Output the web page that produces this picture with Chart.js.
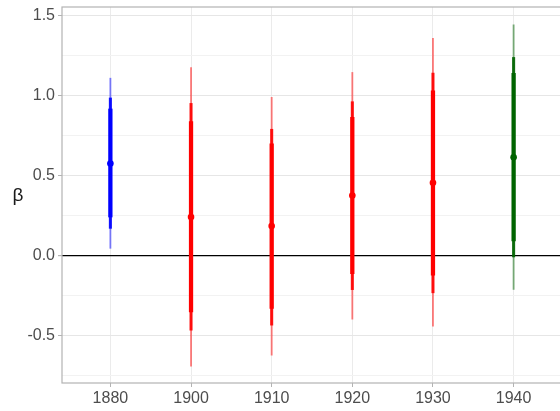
<!DOCTYPE html>
<html>
<head>
<meta charset="utf-8">
<script src="https://cdn.jsdelivr.net/npm/chart.js@4.4.1/dist/chart.umd.min.js"></script>
<style>
  html, body { margin: 0; padding: 0; overflow: hidden; background: #fff; }
  #wrap { width: 566px; height: 411px; }
</style>
</head>
<body>
<div id="wrap"><canvas id="c" width="566" height="411"></canvas></div>
<script>
// Cohorts and their coefficient estimates with three nested intervals
const years = ['1880', '1900', '1910', '1920', '1930', '1940'];
const estimate = [0.575, 0.24, 0.183, 0.375, 0.454, 0.615];
const outerLow  = [0.044, -0.694, -0.625, -0.40, -0.444, -0.214];
const outerHigh = [1.11, 1.177, 0.99, 1.146, 1.36, 1.444];
const midLow    = [0.169, -0.469, -0.4375, -0.215, -0.235, -0.01];
const midHigh   = [0.986, 0.952, 0.79, 0.9625, 1.142, 1.24];
const innerLow  = [0.24, -0.354, -0.333, -0.115, -0.125, 0.09];
const innerHigh = [0.917, 0.8375, 0.698, 0.865, 1.031, 1.14];
const groupColor = ['#0000ff', '#ff0000', '#ff0000', '#ff0000', '#ff0000', '#006400'];
const yTicks = [-0.75, -0.5, -0.25, 0, 0.25, 0.5, 0.75, 1, 1.25, 1.5];

function fade(hex, a) {
  const n = parseInt(hex.slice(1), 16);
  return `rgba(${(n >> 16) & 255},${(n >> 8) & 255},${n & 255},${a})`;
}
const isMajor = v => Math.abs(v * 2 - Math.round(v * 2)) < 1e-9;
const idx = years.map((_, i) => i);
const range = (lo, hi) => idx.map(i => ({ x: i, y: [lo[i], hi[i]] }));

const panelBox = {
  id: 'panelBox',
  afterDatasetsDraw(chart) {
    const { ctx, chartArea: a } = chart;
    ctx.save();
    ctx.strokeStyle = '#b3b3b3';
    ctx.lineWidth = 1.2;
    ctx.strokeRect(a.left, a.top, a.right - a.left, a.bottom - a.top);
    ctx.restore();
  },
  afterDraw(chart) {
    const { ctx, chartArea: a } = chart;
    ctx.save();
    ctx.fillStyle = '#1a1a1a';
    ctx.font = '19px "Liberation Sans", Arial, sans-serif';
    ctx.textAlign = 'center';
    ctx.textBaseline = 'middle';
    ctx.fillText('β', 18, (a.top + a.bottom) / 2 + 1);
    ctx.restore();
  }
};

new Chart(document.getElementById('c'), {
  type: 'bar',
  data: {
    datasets: [
      {
        label: 'outer',
        data: range(outerLow, outerHigh),
        backgroundColor: groupColor.map(c => fade(c, 0.5)),
        barThickness: 1.2,
        order: 3
      },
      {
        label: 'middle',
        data: range(midLow, midHigh),
        backgroundColor: groupColor.map(c => fade(c, 0.9)),
        barThickness: 2.4,
        order: 2
      },
      {
        label: 'inner',
        data: range(innerLow, innerHigh),
        backgroundColor: groupColor,
        barThickness: 3.6,
        order: 1
      },
      {
        type: 'scatter',
        label: 'estimate',
        data: idx.map(i => ({ x: i, y: estimate[i] })),
        pointRadius: 3.3,
        pointBackgroundColor: groupColor,
        pointBorderWidth: 0,
        order: 0
      }
    ]
  },
  options: {
    responsive: false,
    devicePixelRatio: 1,
    animation: false,
    layout: { padding: { top: 7, right: 4, left: 0, bottom: 0 } },
    plugins: { legend: { display: false }, tooltip: { enabled: false } },
    datasets: { bar: { grouped: false, borderWidth: 0, borderSkipped: false } },
    scales: {
      x: {
        type: 'linear',
        offset: false,
        min: -0.6,
        max: 5.6,
        afterBuildTicks(s) { s.ticks = idx.map(v => ({ value: v })); },
        afterFit(s) { s.height = 28; s.paddingLeft = 0; s.paddingRight = 0; },
        ticks: {
          callback: v => years[v],
          color: '#4d4d4d',
          font: { family: '"Liberation Sans", Arial, sans-serif', size: 16 },
          padding: 2,
          maxRotation: 0
        },
        grid: { offset: false, color: '#ebebeb', lineWidth: 1, tickLength: 4, tickColor: '#b3b3b3' },
        border: { display: false }
      },
      y: {
        type: 'linear',
        min: -0.80,
        max: 1.556,
        afterBuildTicks(s) { s.ticks = yTicks.map(v => ({ value: v })); },
        afterFit(s) { s.width = 62; s.paddingTop = 0; s.paddingBottom = 0; },
        ticks: {
          callback: v => (isMajor(v) ? v.toFixed(1) : ''),
          color: '#4d4d4d',
          font: { family: '"Liberation Sans", Arial, sans-serif', size: 16 },
          padding: 3
        },
        grid: {
          color: c => {
            const v = c.tick ? c.tick.value : null;
            if (v === 0) return '#000000';
            return isMajor(v) ? '#e6e6e6' : '#f2f2f2';
          },
          lineWidth: c => (c.tick && c.tick.value === 0 ? 1.2 : 1),
          tickLength: 4,
          tickColor: c => (c.tick && isMajor(c.tick.value) ? '#b3b3b3' : 'rgba(0,0,0,0)')
        },
        border: { display: false }
      }
    }
  },
  plugins: [panelBox]
});
</script>
</body>
</html>
